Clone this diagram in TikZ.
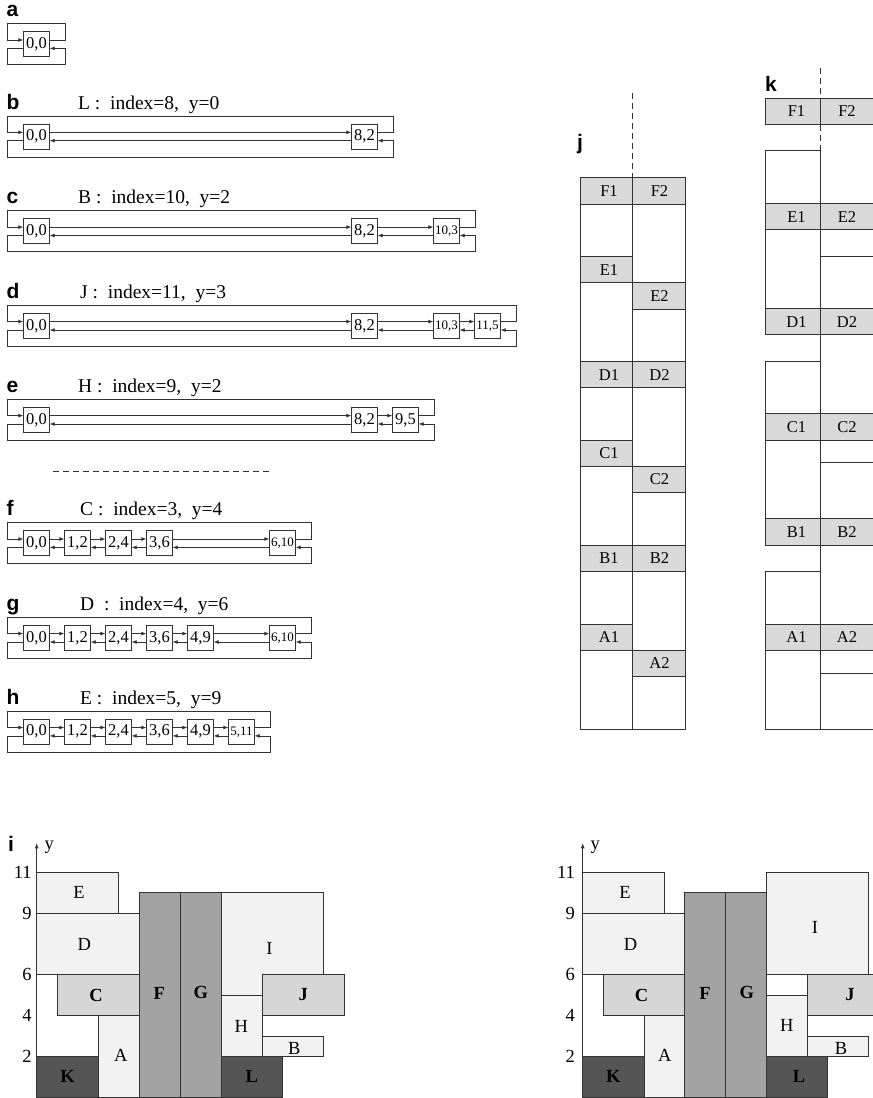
\documentclass[tikz,border=0pt]{standalone}
\usepackage{fontspec}
\setmainfont{Liberation Serif}
\newfontfamily\lsans{Liberation Sans}
\usetikzlibrary{arrows.meta}

\definecolor{ln}{HTML}{333333}
\definecolor{cellgray}{HTML}{D9D9D9}
\definecolor{lightfill}{HTML}{F2F2F2}
\definecolor{midfill}{HTML}{D6D6D6}
\definecolor{colfill}{HTML}{A3A3A3}
\definecolor{darkfill}{HTML}{555555}

\tikzset{
  lbox/.style={draw=ln, line width=0.8pt, fill=white, minimum width=25.5pt, minimum height=25pt, inner sep=0pt, font=\fontsize{16.5}{16.5}\selectfont},
  sm/.style={font=\fontsize{13}{13}\selectfont},
  ptr/.style={draw=ln, line width=0.8pt, -{Latex[length=5pt,width=4pt]}},
  ttl/.style={anchor=base west, font=\fontsize{19.5}{19.5}\selectfont, inner sep=0pt},
  plabel/.style={anchor=base west, font=\lsans\bfseries\fontsize{21}{21}\selectfont, inner sep=0pt},
  cell/.style={fill=cellgray, draw=ln, line width=0.8pt},
  ctxt/.style={font=\fontsize{16.5}{16.5}\selectfont, inner sep=0pt},
  rl/.style={draw=ln, line width=0.8pt},
  dsh/.style={draw=ln, line width=0.8pt, dash pattern=on 6pt off 4pt},
  blk/.style={draw=ln, line width=0.8pt},
  lt/.style={blk, fill=lightfill},
  md/.style={blk, fill=midfill},
  cg/.style={blk, fill=colfill},
  dk/.style={blk, fill=darkfill},
  rtx/.style={font=\fontsize{18.5}{18.5}\selectfont, inner sep=0pt},
  btx/.style={font=\fontsize{18.5}{18.5}\selectfont\bfseries, inner sep=0pt},
  tick/.style={anchor=east, font=\fontsize{18.5}{18.5}\selectfont, inner sep=0pt},
  ax/.style={draw=ln, line width=0.8pt, -{Latex[length=5pt,width=4pt]}}
}

\newcommand\Lpair[2]{%
  \draw[ptr] ([yshift=4.2pt]#1.east) -- ([yshift=4.2pt]#2.west);
  \draw[ptr] ([yshift=-4.2pt]#2.west) -- ([yshift=-4.2pt]#1.east);}
\newcommand\Lloop[2]{%
  \draw[ptr] ([yshift=4.2pt]#2.east) -- ++(16pt,0pt) -- ++(0pt,16.3pt) -| ([xshift=-16pt,yshift=4.2pt]#1.west) -- ([yshift=4.2pt]#1.west);
  \draw[ptr] ([yshift=-4.2pt]#1.west) -- ++(-16pt,0pt) -- ++(0pt,-16.3pt) -| ([xshift=16pt,yshift=-4.2pt]#2.east) -- ([yshift=-4.2pt]#2.east);}

\begin{document}
\begin{tikzpicture}[x=1pt,y=-1pt]
\useasboundingbox (0,0) rectangle (873,1098);

% ---------- a
\node[plabel] (La) at (6.5,16.7) {a};
\node[lbox] (a0) at (36.5,44.2) {0,0};
\Lloop{a0}{a0}

% ---------- b
\node[plabel] (Lb) at (6.5,109.3) {b};
\node[ttl] (Tb) at (78,109.3) {L\ :\ \ index=8,\ \ y=0};
\node[lbox] (b0) at (36.5,136.5) {0,0};
\node[lbox] (b8) at (364.5,136.5) {8,2};
\Lpair{b0}{b8}
\Lloop{b0}{b8}

% ---------- c
\node[plabel] (Lc) at (6.5,203.8) {c};
\node[ttl] (Tc) at (78,203.8) {B\ :\ \ index=10,\ \ y=2};
\node[lbox] (c0) at (36.5,231.3) {0,0};
\node[lbox] (c8) at (364.5,231.3) {8,2};
\node[lbox,sm] (c10) at (446.5,231.3) {10,3};
\Lpair{c0}{c8}
\Lpair{c8}{c10}
\Lloop{c0}{c10}

% ---------- d
\node[plabel] (Ld) at (6.5,298.3) {d};
\node[ttl] (Td) at (80,298.3) {J\ :\ \ index=11,\ \ y=3};
\node[lbox] (d0) at (36.5,325.8) {0,0};
\node[lbox] (d8) at (364.5,325.8) {8,2};
\node[lbox,sm] (d10) at (446.5,325.8) {10,3};
\node[lbox,sm] (d11) at (487.5,325.8) {11,5};
\Lpair{d0}{d8}
\Lpair{d8}{d10}
\Lpair{d10}{d11}
\Lloop{d0}{d11}

% ---------- e
\node[plabel] (Le) at (6.5,392.3) {e};
\node[ttl] (Te) at (78,392.3) {H\ :\ \ index=9,\ \ y=2};
\node[lbox] (e0) at (36.5,419.8) {0,0};
\node[lbox] (e8) at (364.5,419.8) {8,2};
\node[lbox] (e9) at (405.5,419.8) {9,5};
\Lpair{e0}{e8}
\Lpair{e8}{e9}
\Lloop{e0}{e9}

% separator
\draw[dsh] (53.3,471.7) -- (270,471.7);

% ---------- f
\node[plabel] (Lf) at (6.5,515.5) {f};
\node[ttl] (Tf) at (80,515.5) {C\ :\ \ index=3,\ \ y=4};
\node[lbox] (f0) at (36.5,543.2) {0,0};
\node[lbox] (f1) at (77.5,543.2) {1,2};
\node[lbox] (f2) at (118.5,543.2) {2,4};
\node[lbox] (f3) at (159.5,543.2) {3,6};
\node[lbox,sm] (f6) at (282.5,543.2) {6,10};
\Lpair{f0}{f1}
\Lpair{f1}{f2}
\Lpair{f2}{f3}
\Lpair{f3}{f6}
\Lloop{f0}{f6}

% ---------- g
\node[plabel] (Lg) at (6.5,610.3) {g};
\node[ttl] (Tg) at (80,610.3) {D\ \ :\ \ index=4,\ \ y=6};
\node[lbox] (g0) at (36.5,637.8) {0,0};
\node[lbox] (g1) at (77.5,637.8) {1,2};
\node[lbox] (g2) at (118.5,637.8) {2,4};
\node[lbox] (g3) at (159.5,637.8) {3,6};
\node[lbox] (g4) at (200.5,637.8) {4,9};
\node[lbox,sm] (g6) at (282.5,637.8) {6,10};
\Lpair{g0}{g1}
\Lpair{g1}{g2}
\Lpair{g2}{g3}
\Lpair{g3}{g4}
\Lpair{g4}{g6}
\Lloop{g0}{g6}

% ---------- h
\node[plabel] (Lh) at (6.5,704.2) {h};
\node[ttl] (Th) at (80,704.2) {E\ :\ \ index=5,\ \ y=9};
\node[lbox] (h0) at (36.5,731.7) {0,0};
\node[lbox] (h1) at (77.5,731.7) {1,2};
\node[lbox] (h2) at (118.5,731.7) {2,4};
\node[lbox] (h3) at (159.5,731.7) {3,6};
\node[lbox] (h4) at (200.5,731.7) {4,9};
\node[lbox,sm] (h5) at (241.5,731.7) {5,11};
\Lpair{h0}{h1}
\Lpair{h1}{h2}
\Lpair{h2}{h3}
\Lpair{h3}{h4}
\Lpair{h4}{h5}
\Lloop{h0}{h5}

% ---------- j
\node[plabel] (Lj) at (577,149.5) {j};
\begin{scope}[shift={(0pt,-177.7pt)}, y=-26.25pt]
  \draw[dsh] (632.7,-3.227) -- (632.7,0);
  \filldraw[cell] (580,0) rectangle (632.7,1);   \node[ctxt] (jF1) at (609,0.5) {F1};
  \filldraw[cell] (632.7,0) rectangle (685,1);   \node[ctxt] (jF2) at (659.5,0.5) {F2};
  \filldraw[cell] (580,3) rectangle (632.7,4);   \node[ctxt] (jE1) at (609,3.5) {E1};
  \filldraw[cell] (632.7,4) rectangle (685,5);   \node[ctxt] (jE2) at (659.5,4.5) {E2};
  \filldraw[cell] (580,7) rectangle (632.7,8);   \node[ctxt] (jD1) at (609,7.5) {D1};
  \filldraw[cell] (632.7,7) rectangle (685,8);   \node[ctxt] (jD2) at (659.5,7.5) {D2};
  \filldraw[cell] (580,10) rectangle (632.7,11); \node[ctxt] (jC1) at (609,10.5) {C1};
  \filldraw[cell] (632.7,11) rectangle (685,12); \node[ctxt] (jC2) at (659.5,11.5) {C2};
  \filldraw[cell] (580,14) rectangle (632.7,15); \node[ctxt] (jB1) at (609,14.5) {B1};
  \filldraw[cell] (632.7,14) rectangle (685,15); \node[ctxt] (jB2) at (659.5,14.5) {B2};
  \filldraw[cell] (580,17) rectangle (632.7,18); \node[ctxt] (jA1) at (609,17.5) {A1};
  \filldraw[cell] (632.7,18) rectangle (685,19); \node[ctxt] (jA2) at (659.5,18.5) {A2};
  \draw[rl] (580,0) rectangle (685,21);
  \draw[rl] (632.7,0) -- (632.7,21);
\end{scope}

% ---------- k
\node[plabel] (Lk) at (765,91.7) {k};
\begin{scope}[shift={(0pt,-98.3pt)}, y=-26.28pt]
  \draw[dsh] (820.3,-1.153) -- (820.3,0);
  \draw[dsh] (820.3,1) -- (820.3,2);
  \draw[rl] (765.7,2) rectangle (820.3,9);
  \draw[rl] (765.7,10) rectangle (820.3,17);
  \draw[rl] (765.7,18) rectangle (820.3,24);
  \draw[rl] (820.3,2) -- (820.3,24);
  \draw[rl] (820.3,6.02) -- (880,6.02);
  \draw[rl] (820.3,13.86) -- (880,13.86);
  \draw[rl] (820.3,21.87) -- (880,21.87);
  \draw[rl] (820.3,24) -- (880,24);
  \filldraw[cell] (765.7,0) rectangle (820.3,1);  \filldraw[cell] (820.3,0) rectangle (880,1);
  \node[ctxt] (kF1) at (796.5,0.5) {F1};  \node[ctxt] (kF2) at (847,0.5) {F2};
  \filldraw[cell] (765.7,4) rectangle (820.3,5);  \filldraw[cell] (820.3,4) rectangle (880,5);
  \node[ctxt] (kE1) at (796.5,4.5) {E1};  \node[ctxt] (kE2) at (847,4.5) {E2};
  \filldraw[cell] (765.7,8) rectangle (820.3,9);  \filldraw[cell] (820.3,8) rectangle (880,9);
  \node[ctxt] (kD1) at (796.5,8.5) {D1};  \node[ctxt] (kD2) at (847,8.5) {D2};
  \filldraw[cell] (765.7,12) rectangle (820.3,13);  \filldraw[cell] (820.3,12) rectangle (880,13);
  \node[ctxt] (kC1) at (796.5,12.5) {C1};  \node[ctxt] (kC2) at (847,12.5) {C2};
  \filldraw[cell] (765.7,16) rectangle (820.3,17);  \filldraw[cell] (820.3,16) rectangle (880,17);
  \node[ctxt] (kB1) at (796.5,16.5) {B1};  \node[ctxt] (kB2) at (847,16.5) {B2};
  \filldraw[cell] (765.7,20) rectangle (820.3,21);  \filldraw[cell] (820.3,20) rectangle (880,21);
  \node[ctxt] (kA1) at (796.5,20.5) {A1};  \node[ctxt] (kA2) at (847,20.5) {A2};
\end{scope}

% ---------- i (left)
\node[plabel] (Li) at (8,851.7) {i};
\begin{scope}[shift={(36.7pt,-1097.5pt)}, x=20.5pt, y=20.5pt]
  \filldraw[dk] (0,0) rectangle (3,2);
  \filldraw[lt] (3,0) rectangle (5,4);
  \filldraw[dk] (9,0) rectangle (12,2);
  \filldraw[lt] (9,2) rectangle (11,5);
  \filldraw[lt] (11,2) rectangle (14,3);
  \filldraw[lt] (9,5) rectangle (14,10);
  \filldraw[md] (11,4) rectangle (15,6);
  \filldraw[md] (1,4) rectangle (5,6);
  \filldraw[lt] (0,6) rectangle (5,9);
  \filldraw[lt] (0,9) rectangle (4,11);
  \filldraw[cg] (5,0) rectangle (7,10);
  \filldraw[cg] (7,0) rectangle (9,10);
  \coordinate (o1) at (0,0);
  \coordinate (t1) at (0,12.4);
  \draw[ax] (o1) -- (t1);
  \node[rtx] (y1) at (0.61,12.19) {y};
  \node[tick] (n11a) at (-0.24,11) {11};
  \node[tick] (n9a) at (-0.24,9) {9};
  \node[tick] (n6a) at (-0.24,6) {6};
  \node[tick] (n4a) at (-0.24,4) {4};
  \node[tick] (n2a) at (-0.24,2) {2};
  \node[rtx] (iE) at (2.06,9.98) {E};
  \node[rtx] (iD) at (2.32,7.49) {D};
  \node[btx] (iC) at (2.9,5) {C};
  \node[btx] (iF) at (5.98,5.1) {F};
  \node[btx] (iG) at (8,5.1) {G};
  \node[rtx] (iI) at (11.35,7.28) {I};
  \node[btx] (iJ) at (13,5) {J};
  \node[rtx] (iH) at (9.98,3.45) {H};
  \node[rtx] (iB) at (12.57,2.4) {B};
  \node[rtx] (iA) at (4.1,2.04) {A};
  \node[btx] (iK) at (1.51,1.01) {K};
  \node[btx] (iL) at (10.49,1.01) {L};
\end{scope}

% ---------- i (right)
\begin{scope}[shift={(582.7pt,-1097.5pt)}, x=20.4pt, y=20.5pt]
  \filldraw[dk] (0,0) rectangle (3,2);
  \filldraw[lt] (3,0) rectangle (5,4);
  \filldraw[dk] (9,0) rectangle (12,2);
  \filldraw[lt] (9,2) rectangle (11,5);
  \filldraw[lt] (11,2) rectangle (14,3);
  \filldraw[lt] (9,6) rectangle (14,11);
  \filldraw[md] (11,4) rectangle (15,6);
  \filldraw[md] (1,4) rectangle (5,6);
  \filldraw[lt] (0,6) rectangle (5,9);
  \filldraw[lt] (0,9) rectangle (4,11);
  \filldraw[cg] (5,0) rectangle (7,10);
  \filldraw[cg] (7,0) rectangle (9,10);
  \coordinate (o2) at (0,0);
  \coordinate (t2) at (0,12.4);
  \draw[ax] (o2) -- (t2);
  \node[rtx] (y2) at (0.61,12.19) {y};
  \node[tick] (n11b) at (-0.37,11) {11};
  \node[tick] (n9b) at (-0.37,9) {9};
  \node[tick] (n6b) at (-0.37,6) {6};
  \node[tick] (n4b) at (-0.37,4) {4};
  \node[tick] (n2b) at (-0.37,2) {2};
  \node[rtx] (rE) at (2.07,9.98) {E};
  \node[rtx] (rD) at (2.35,7.46) {D};
  \node[btx] (rC) at (2.89,5) {C};
  \node[btx] (rF) at (6.0,5.1) {F};
  \node[btx] (rG) at (8.04,5.1) {G};
  \node[rtx] (rI) at (11.39,8.3) {I};
  \node[btx] (rJ) at (13.1,5) {J};
  \node[rtx] (rH) at (10,3.5) {H};
  \node[rtx] (rB) at (12.66,2.4) {B};
  \node[rtx] (rA) at (4.03,2.04) {A};
  \node[btx] (rK) at (1.5,1.01) {K};
  \node[btx] (rL) at (10.6,1.01) {L};
\end{scope}
\end{tikzpicture}
\end{document}
